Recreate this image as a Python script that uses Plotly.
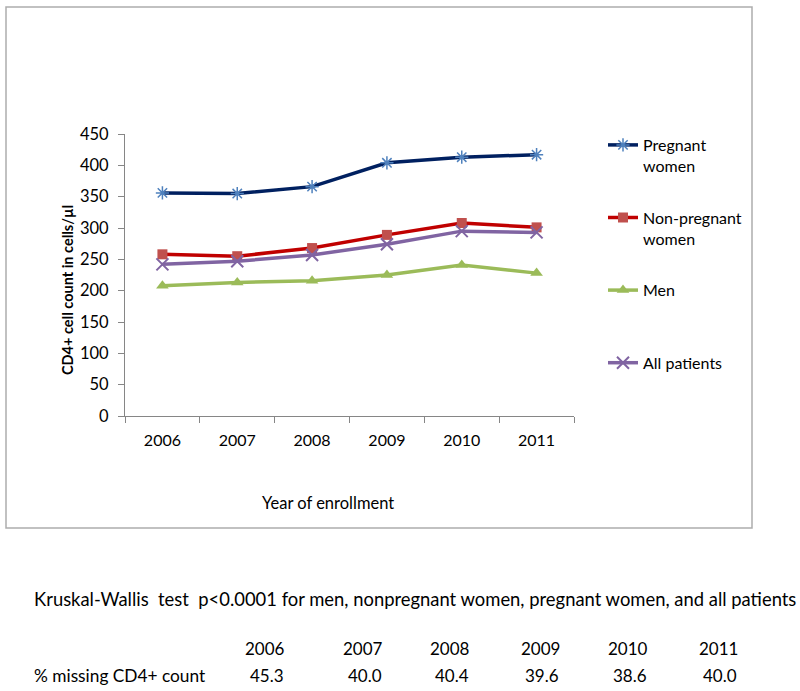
import plotly.graph_objects as go

years = ["2006", "2007", "2008", "2009", "2010", "2011"]
pregnant = [356, 355, 366, 404, 413, 417]
non_pregnant = [258, 255, 268, 289, 308, 301]
men = [208, 213, 216, 225, 241, 228]
all_patients = [242, 247, 257, 274, 295, 293]

missing_years = ["2006", "2007", "2008", "2009", "2010", "2011"]
missing_pct = ["45.3", "40.0", "40.4", "39.6", "38.6", "40.0"]

W, H = 800, 691
L, R, T, B = 125, 574, 134, 416  # plot area in pixels

FONT = "Lato, Carlito, Calibri, sans-serif"


def px(xp):
    return (xp - L) / (R - L)


def py(yp):
    return (B - yp) / (B - T)


fig = go.Figure()

series = [
    ("Pregnant<br>women", pregnant, "#002060",
     dict(symbol="asterisk-open", size=11, color="#4F81BD", line=dict(color="#4F81BD", width=1.5))),
    ("Non-pregnant<br>women", non_pregnant, "#C00000",
     dict(symbol="square", size=10, color="#C0504D", line=dict(width=0))),
    ("Men<br> ", men, "#9BBB59",
     dict(symbol="triangle-up", size=11, color="#9BBB59", line=dict(width=0))),
    ("All patients", all_patients, "#8064A2",
     dict(symbol="x-thin-open", size=12, color="#8064A2", line=dict(color="#8064A2", width=2))),
]

for i, (name, vals, col, mk) in enumerate(series):
    fig.add_trace(go.Scatter(
        x=years, y=vals, name=name, mode="lines+markers",
        line=dict(color=col, width=3.5), marker=mk,
        legendgroup=f"g{i}",
    ))

fig.update_layout(
    width=W, height=H,
    margin=dict(l=L, r=W - R, t=T, b=H - B),
    paper_bgcolor="white", plot_bgcolor="white",
    font=dict(family=FONT, size=16, color="#000000"),
    showlegend=True,
    legend=dict(
        x=px(603), y=py(128), xanchor="left", yanchor="top",
        font=dict(family=FONT, size=16, color="#000000"),
        tracegroupgap=28, valign="top", bgcolor="rgba(0,0,0,0)",
        itemwidth=30,
    ),
    xaxis=dict(
        type="category", range=[-0.5, 5.5], showline=True, linecolor="#868686",
        linewidth=1, ticks="outside", ticklen=6, tickcolor="#868686",
        tickson="boundaries", showgrid=False, zeroline=False,
        ticklabelstandoff=10,
        tickfont=dict(family=FONT, size=16, color="#000000"),
    ),
    yaxis=dict(
        range=[0, 450], tickmode="array", tickvals=list(range(0, 451, 50)),
        showline=True, linecolor="#868686", linewidth=1, ticks="outside",
        ticklen=6, tickcolor="#868686", showgrid=False, zeroline=False,
        ticklabelstandoff=6,
        tickfont=dict(family=FONT, size=16.5, color="#000000"),
    ),
)

# axis titles
fig.add_annotation(text="Year of enrollment", xref="paper", yref="paper",
                   x=px(328), y=py(503), xanchor="center", yanchor="middle",
                   showarrow=False, font=dict(family=FONT, size=16.5, color="#000000"))
fig.add_annotation(text="<b>CD4+ cell count in cells/µl</b>", xref="paper", yref="paper",
                   x=px(67), y=py(290), xanchor="center", yanchor="middle", textangle=-90,
                   showarrow=False, font=dict(family=FONT, size=14.5, color="#000000"))

# chart border
fig.add_shape(type="rect", xref="paper", yref="paper",
              x0=px(6), x1=px(752), y0=py(528), y1=py(7),
              line=dict(color="#ADADAD", width=1.5), fillcolor="rgba(0,0,0,0)",
              layer="below")

# footnote text
fig.add_annotation(
    text="Kruskal-Wallis  test  p<0.0001 for men, nonpregnant women, pregnant women, and all patients",
    xref="paper", yref="paper", x=px(32), y=py(599), xanchor="left", yanchor="middle",
    showarrow=False, font=dict(family=FONT, size=18.4, color="#000000"))

col_x = [265, 363, 450, 540, 628, 718]
for cx, yr, val in zip(col_x, missing_years, missing_pct):
    fig.add_annotation(text=yr, xref="paper", yref="paper", x=px(cx), y=py(648),
                       xanchor="center", yanchor="middle", showarrow=False,
                       font=dict(family=FONT, size=17, color="#000000"))
    fig.add_annotation(text=val, xref="paper", yref="paper", x=px(cx + 2), y=py(675),
                       xanchor="center", yanchor="middle", showarrow=False,
                       font=dict(family=FONT, size=17, color="#000000"))

fig.add_annotation(text="% missing CD4+ count", xref="paper", yref="paper",
                   x=px(32), y=py(675), xanchor="left", yanchor="middle", showarrow=False,
                   font=dict(family=FONT, size=17.3, color="#000000"))

fig.write_html("out.html", config={"displayModeBar": False},
               post_script="document.body.style.margin='0';")
